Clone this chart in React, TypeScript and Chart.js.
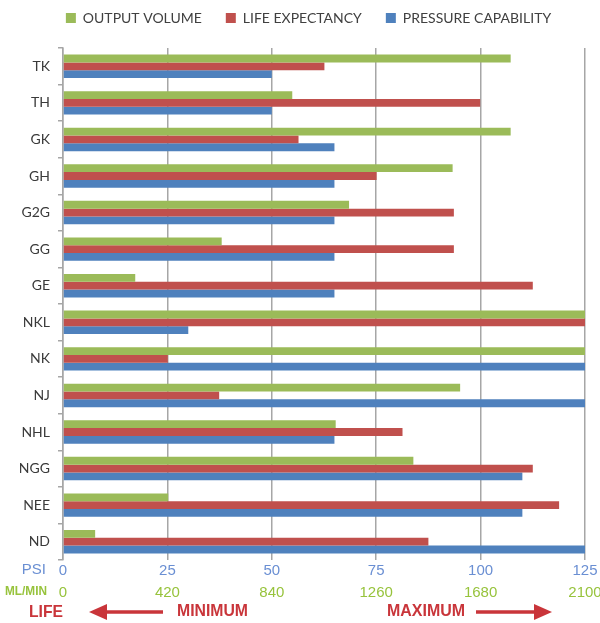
import React, { useEffect, useRef } from "react";
import Chart from "chart.js/auto";

const categories = ["TK", "TH", "GK", "GH", "G2G", "GG", "GE", "NKL", "NK", "NJ", "NHL", "NGG", "NEE", "ND"];
const outputVolume = [107.2, 54.9, 107.2, 93.3, 68.5, 38.0, 17.3, 125, 125, 95.1, 65.3, 83.9, 25.2, 7.7];
const lifeExpectancy = [62.6, 99.9, 56.4, 75.1, 93.6, 93.6, 112.5, 125, 25.1, 37.4, 81.3, 112.5, 118.8, 87.5];
const pressureCapability = [50, 50, 65, 65, 65, 65, 65, 30, 125, 125, 65, 110, 110, 125];
const psiTicks = [0, 25, 50, 75, 100, 125];
const mlMinTicks = [0, 420, 840, 1260, 1680, 2100];
const seriesNames = ["OUTPUT VOLUME", "LIFE EXPECTANCY", "PRESSURE CAPABILITY"];

const GREEN = "#9bbb59";
const RED = "#c0504d";
const BLUE = "#4f81bd";
const AXIS_BLUE = "#6a8fd3";
const AXIS_GREEN = "#97c33c";
const TEXT_RED = "#c9353a";
const GRID = "#a6a6a6";

const legendShift = {
  id: "legendShift",
  afterLayout(chart: any) {
    if (chart.legend) {
      chart.legend.left += 16;
      chart.legend.right += 16;
    }
  },
};

const annotations = {
  id: "bottomAnnotations",
  afterDraw(chart: any) {
    const ctx = chart.ctx;
    const xs = chart.scales.x;
    const x2 = chart.scales.x2;
    const left = chart.chartArea.left;
    ctx.save();
    ctx.textBaseline = "middle";
    ctx.fillStyle = AXIS_BLUE;
    ctx.font = "15px 'Liberation Sans', Arial, sans-serif";
    ctx.textAlign = "right";
    ctx.fillText("PSI", left - 17, xs.top + 10);
    ctx.fillStyle = AXIS_GREEN;
    ctx.font = "bold 12px 'Liberation Sans', Arial, sans-serif";
    ctx.fillText("ML/MIN", left - 16, x2.top + 11, 42);

    const y = 612;
    ctx.fillStyle = TEXT_RED;
    ctx.strokeStyle = TEXT_RED;
    ctx.textAlign = "left";
    ctx.font = "bold 17px 'Liberation Sans', Arial, sans-serif";
    ctx.fillText("LIFE", 29, y, 34);
    ctx.font = "bold 16px 'Liberation Sans', Arial, sans-serif";
    ctx.fillText("MINIMUM", 177, y, 71);
    ctx.fillText("MAXIMUM", 387, y, 78);

    ctx.lineWidth = 3.5;
    ctx.beginPath();
    ctx.moveTo(163, y);
    ctx.lineTo(104, y);
    ctx.stroke();
    ctx.beginPath();
    ctx.moveTo(89, y);
    ctx.lineTo(107, y - 8);
    ctx.lineTo(107, y + 8);
    ctx.closePath();
    ctx.fill();
    ctx.beginPath();
    ctx.moveTo(476, y);
    ctx.lineTo(536, y);
    ctx.stroke();
    ctx.beginPath();
    ctx.moveTo(552, y);
    ctx.lineTo(534, y - 8);
    ctx.lineTo(534, y + 8);
    ctx.closePath();
    ctx.fill();
    ctx.restore();
  },
};

export default function App() {
  const ref = useRef<HTMLCanvasElement | null>(null);
  useEffect(() => {
    if (!ref.current) return;
    const chart = new Chart(ref.current, {
      type: "bar",
      data: {
        labels: categories,
        datasets: [
          { label: seriesNames[0], data: outputVolume, backgroundColor: GREEN, xAxisID: "x" },
          { label: seriesNames[1], data: lifeExpectancy, backgroundColor: RED, xAxisID: "x" },
          { label: seriesNames[2], data: pressureCapability, backgroundColor: BLUE, xAxisID: "x" },
        ],
      },
      options: {
        indexAxis: "y",
        animation: false,
        responsive: true,
        maintainAspectRatio: false,
        datasets: { bar: { categoryPercentage: 0.64, barPercentage: 1.0 } },
        layout: { padding: { top: -13, left: 0, right: 15, bottom: 21 } },
        plugins: {
          tooltip: { enabled: false },
          title: {
            display: true,
            text: "",
            weight: 500,
            font: { size: 1, lineHeight: 1 },
            padding: { top: 0, bottom: 12 },
          },
          legend: {
            position: "top",
            labels: {
              boxWidth: 10,
              boxHeight: 10,
              padding: 24,
              color: "#404040",
              font: { family: "Lato, 'Open Sans', sans-serif", size: 14 },
            },
          },
        },
        scales: {
          y: {
            type: "category",
            position: "left",
            offset: true,
            grid: { display: true, drawOnChartArea: false, drawTicks: true, tickLength: 5, color: GRID, lineWidth: 1.5, offset: true },
            border: { display: true, color: GRID, width: 1.5 },
            ticks: { color: "#3a3a3a", padding: 8, font: { family: "Lato, 'Open Sans', sans-serif", size: 14 } },
            afterFit: (s: any) => { s.width = 63; },
          },
          x: {
            type: "linear",
            position: "bottom",
            min: 0,
            max: 125,
            afterBuildTicks: (s: any) => { s.ticks = psiTicks.map((v) => ({ value: v })); },
            grid: { display: true, drawTicks: false, color: GRID, lineWidth: 1.5 },
            border: { display: false },
            ticks: {
              color: AXIS_BLUE,
              padding: 2,
              font: { family: "'Liberation Sans', Arial, sans-serif", size: 15 },
              callback: (v: any) => String(v),
            },
            afterFit: (s: any) => { s.height = 21; s.paddingLeft = 0; s.paddingRight = 0; },
          },
          x2: {
            type: "linear",
            position: "bottom",
            min: 0,
            max: 2100,
            afterBuildTicks: (s: any) => { s.ticks = mlMinTicks.map((v) => ({ value: v })); },
            grid: { display: false, drawTicks: false },
            border: { display: false },
            ticks: {
              color: AXIS_GREEN,
              padding: 3,
              font: { family: "'Liberation Sans', Arial, sans-serif", size: 15 },
              callback: (v: any) => String(v),
            },
            afterFit: (s: any) => { s.height = 21; s.paddingLeft = 0; s.paddingRight = 0; },
          },
        },
      },
      plugins: [legendShift, annotations],
    });
    return () => chart.destroy();
  }, []);
  return (
    <div style={{ position: "absolute", left: 0, top: 0, width: 600, height: 623, background: "#fff" }}>
      <canvas ref={ref} />
    </div>
  );
}
